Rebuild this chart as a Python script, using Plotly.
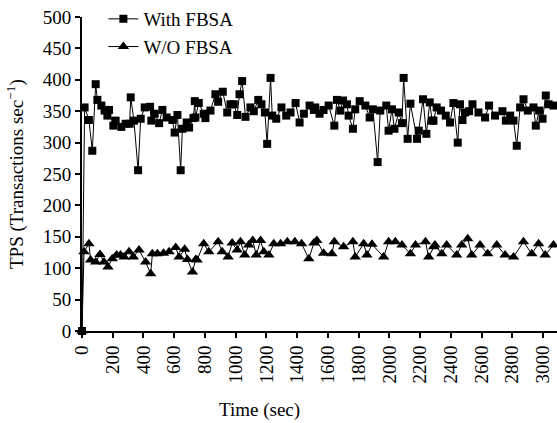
import plotly.graph_objects as go

# With FBSA (time in sec, TPS)
time_fbsa = [0, 17, 45, 67, 89, 100, 126, 147, 165, 176, 204, 219, 256, 284, 310, 317, 338, 365,
             382, 408, 443, 451, 473, 502, 523, 551, 588, 603, 621, 642, 653, 681, 697, 725, 734,
             738, 760, 792, 803, 836, 868, 886, 916, 945, 966, 988, 1010, 1025, 1042, 1064, 1096,
             1118, 1147, 1168, 1190, 1205, 1227, 1238, 1264, 1298, 1329, 1357, 1390, 1416, 1444,
             1481, 1509, 1518, 1546, 1572, 1605, 1642, 1659, 1681, 1698, 1724, 1735, 1763, 1778,
             1807, 1844, 1872, 1893, 1924, 1941, 1980, 1995, 2017, 2033, 2061, 2082, 2093, 2119,
             2137, 2180, 2191, 2219, 2241, 2263, 2278, 2287, 2308, 2336, 2367, 2395, 2417, 2445,
             2460, 2476, 2493, 2519, 2541, 2580, 2623, 2649, 2688, 2736, 2758, 2786, 2808, 2829,
             2851, 2873, 2901, 2938, 2953, 2975, 2997, 3018, 3036, 3068]
tps_fbsa = [0, 356, 336, 287, 393, 368, 359, 351, 343, 352, 327, 335, 325, 330, 330, 372, 335, 256,
            338, 356, 357, 335, 346, 331, 352, 340, 336, 316, 344, 256, 322, 332, 324, 339, 366,
            340, 363, 346, 339, 351, 377, 365, 381, 348, 361, 361, 344, 377, 398, 341, 356,
            350, 368, 361, 348, 298, 403, 343, 338, 356, 343, 348, 363, 332, 346,
            359, 352, 356, 346, 352, 359, 327, 368, 351, 367, 361, 343, 322, 353,
            366, 359, 340, 353, 269, 351, 359, 319, 353, 322, 348, 331, 403, 306,
            362, 306, 319, 369, 314, 364, 335, 335, 356, 351, 343, 332, 363, 300,
            361, 336, 348, 350, 361, 348, 340, 359, 343, 350, 335, 343, 335, 295,
            356, 369, 351, 356, 327, 351, 338, 375, 361, 359]

# W/O FBSA
time_wo = [0, 13, 45, 56, 89, 117, 143, 169, 197, 225, 251, 274, 306, 334, 371, 414, 447, 458, 491,
           530, 567, 610, 632, 668, 686, 719, 740, 749, 792, 825, 886, 912, 951, 977, 1010, 1031,
           1059, 1085, 1111, 1134, 1162, 1183, 1216, 1248, 1292, 1336, 1385, 1429, 1476, 1509,
           1528, 1572, 1626, 1642, 1702, 1763, 1778, 1833, 1854, 1887, 1963, 1995, 2039, 2082,
           2137, 2170, 2235, 2256, 2289, 2297, 2341, 2373, 2438, 2471, 2510, 2536, 2590, 2640,
           2699, 2753, 2808, 2873, 2927, 2971, 3014, 3068]
tps_wo = [0, 126, 139, 113, 110, 122, 110, 102, 115, 121, 121, 118, 126, 118, 129, 110, 91, 123, 123,
          124, 126, 133, 118, 130, 114, 94, 114, 113, 139, 126, 142, 126, 118, 140, 129, 142,
          121, 137, 144, 121, 144, 126, 121, 139, 139, 142, 142, 139, 115, 140,
          144, 124, 123, 142, 134, 142, 118, 139, 121, 138, 118, 142, 142, 137,
          123, 137, 142, 118, 134, 137, 123, 137, 121, 137, 147, 121, 137, 123,
          137, 121, 118, 142, 123, 139, 121, 137]

x_ticks = list(range(0, 3001, 200))
y_ticks = list(range(0, 501, 50))

FONT = "Liberation Serif, Times New Roman, serif"
FS = 19

fig = go.Figure()
fig.add_trace(go.Scatter(
    x=time_fbsa, y=tps_fbsa, mode="lines+markers", name="With FBSA",
    line=dict(color="black", width=1),
    marker=dict(symbol="square", size=8, color="black"),
    cliponaxis=False))
fig.add_trace(go.Scatter(
    x=time_wo, y=tps_wo, mode="lines+markers", name="W/O FBSA",
    line=dict(color="black", width=1),
    marker=dict(symbol="triangle-up", size=10, color="black"),
    cliponaxis=False))

fig.update_layout(
    width=557, height=423,
    margin=dict(l=82, r=0, t=16, b=92),
    paper_bgcolor="white", plot_bgcolor="white",
    font=dict(family=FONT, size=FS, color="black"),
    showlegend=True,
    legend=dict(x=0.045, y=1.055, xanchor="left", yanchor="top",
                bgcolor="rgba(0,0,0,0)", borderwidth=0,
                font=dict(family=FONT, size=FS), tracegroupgap=0),
    xaxis=dict(range=[0, 3091], tickvals=x_ticks, ticktext=[str(v) for v in x_ticks],
               tickangle=-90, ticks="outside", ticklen=5, tickwidth=1.5, tickcolor="black",
               showline=True, linecolor="black", linewidth=2, showgrid=False, zeroline=False,
               tickfont=dict(family=FONT, size=FS)),
    yaxis=dict(range=[0, 500], tickvals=y_ticks, ticks="outside", ticklen=5, tickwidth=1.5,
               tickcolor="black", showline=True, linecolor="black", linewidth=2,
               showgrid=False, zeroline=False, tickfont=dict(family=FONT, size=FS)),
    annotations=[
        dict(text="Time (sec)", xref="paper", yref="paper", x=0.373, y=-0.252,
             xanchor="center", yanchor="middle", showarrow=False,
             font=dict(family=FONT, size=FS)),
        dict(text="TPS (Transactions sec<sup>−1</sup>)", xref="paper", yref="paper",
             x=-0.141, y=0.5, xanchor="center", yanchor="middle", textangle=-90,
             showarrow=False, font=dict(family=FONT, size=FS)),
    ],
)

fig.write_html("out.html")
